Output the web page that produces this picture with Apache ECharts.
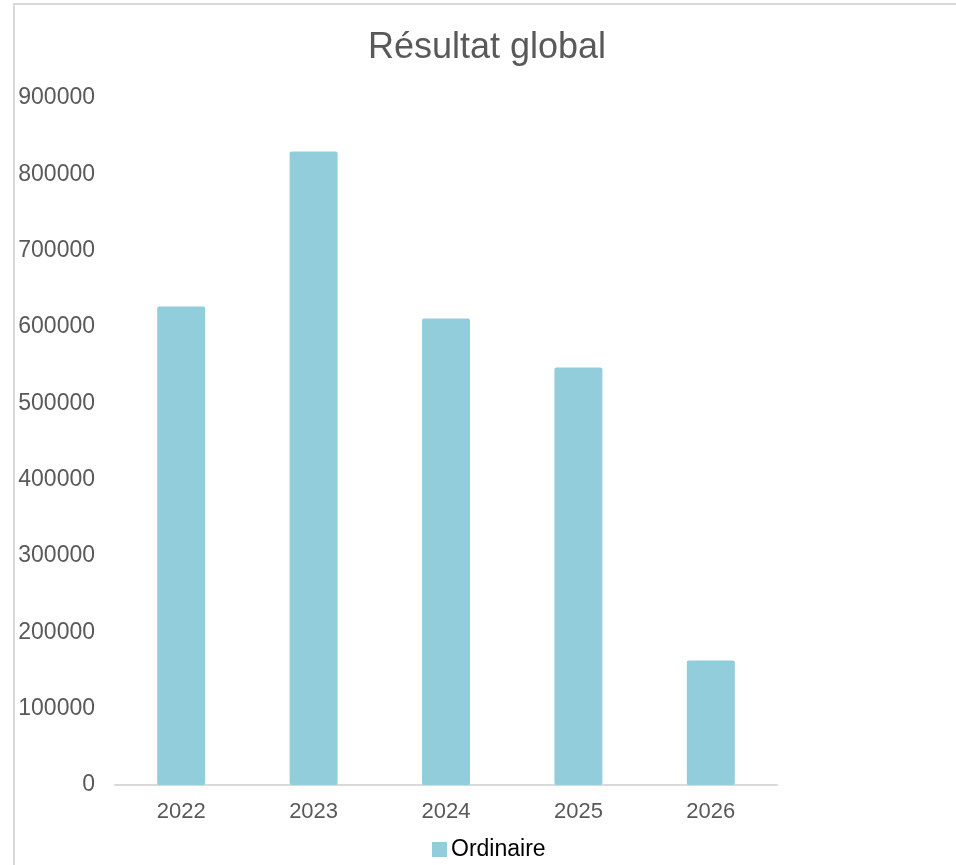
<!DOCTYPE html>
<html>
<head>
<meta charset="utf-8">
<script src="https://cdn.jsdelivr.net/npm/echarts@6/dist/echarts.min.js"></script>
<style>
html,body{margin:0;padding:0;background:#fff;overflow:hidden;}
#frame{position:absolute;left:13px;top:3px;width:1200px;height:1000px;border-left:2px solid #d9d9d9;border-top:2px solid #d9d9d9;}
#chart{position:absolute;left:0;top:0;width:956px;height:865px;}
</style>
</head>
<body>
<div id="frame"></div>
<div id="chart"></div>
<script>
const title = 'Résultat global';
const categories = ['2022', '2023', '2024', '2025', '2026'];
const seriesName = 'Ordinaire';
const ordinaire = [627000, 830000, 611000, 547000, 163000];
const yTicks = { min: 0, max: 900000, interval: 100000 };

const chart = echarts.init(document.getElementById('chart'));
const font = 'Liberation Sans, Arial, sans-serif';
chart.setOption({
  backgroundColor: 'transparent',
  animation: false,
  title: {
    text: title,
    left: 482,
    textAlign: 'center',
    top: 25,
    textStyle: { fontFamily: font, fontSize: 36, fontWeight: 'normal', color: '#595959' }
  },
  legend: {
    bottom: 4,
    left: 432,
    itemWidth: 15,
    itemHeight: 15,
    itemGap: 10,
    icon: 'rect',
    padding: 0,
    textStyle: { fontFamily: font, fontSize: 23, color: '#000', padding: [0, 0, 0, -1] },
    data: [seriesName]
  },
  grid: { left: 115, right: 179, top: 98, bottom: 80 },
  xAxis: {
    type: 'category',
    data: categories,
    axisLine: { lineStyle: { color: '#d9d9d9', width: 2 } },
    axisTick: { show: false },
    axisLabel: { fontFamily: font, fontSize: 22, color: '#595959', margin: 16 }
  },
  yAxis: {
    type: 'value',
    min: yTicks.min,
    max: yTicks.max,
    interval: yTicks.interval,
    splitLine: { show: false },
    axisLine: { show: false },
    axisTick: { show: false },
    axisLabel: { fontFamily: font, fontSize: 23, color: '#595959', margin: 20, formatter: v => String(v) }
  },
  series: [{
    name: seriesName,
    type: 'bar',
    data: ordinaire,
    barWidth: 48,
    itemStyle: { color: '#92CDDC', borderRadius: 2 }
  }]
});
</script>
</body>
</html>
